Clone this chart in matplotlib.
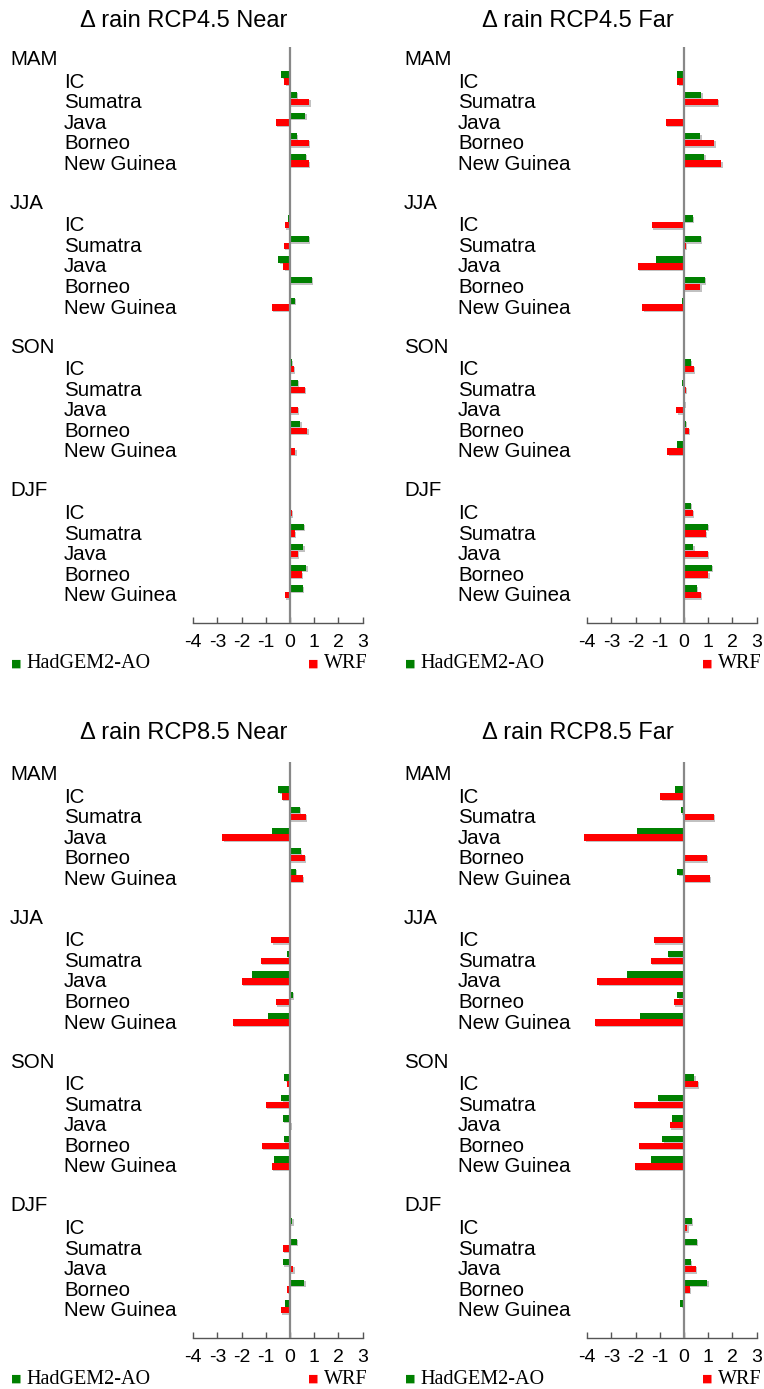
import matplotlib
matplotlib.use("Agg")
import matplotlib.pyplot as plt
import matplotlib.transforms as mtransforms
import matplotlib.patheffects as pe
import numpy as np

plt.rcParams['axes.unicode_minus'] = False

seasons = ['MAM', 'JJA', 'SON', 'DJF']
regions = ['IC', 'Sumatra', 'Java', 'Borneo', 'New Guinea']
xticks = [-4, -3, -2, -1, 0, 1, 2, 3]
titles = ['\u0394 rain RCP4.5 Near', '\u0394 rain RCP4.5 Far',
          '\u0394 rain RCP8.5 Near', '\u0394 rain RCP8.5 Far']
legend_labels = ['HadGEM2-AO', 'WRF']

# rows: seasons, columns: regions
rcp45_near_had = [[-0.36, 0.29, 0.63, 0.29, 0.65],
                  [-0.07, 0.78, -0.48, 0.89, 0.21],
                  [0.07, 0.32, 0.0, 0.43, 0.0],
                  [0.0, 0.58, 0.55, 0.67, 0.54]]
rcp45_near_wrf = [[-0.23, 0.80, -0.58, 0.77, 0.77],
                  [-0.21, -0.26, -0.27, 0.0, -0.74],
                  [0.15, 0.62, 0.33, 0.71, 0.22],
                  [0.08, 0.21, 0.33, 0.48, -0.22]]

rcp45_far_had = [[-0.29, 0.71, -0.04, 0.67, 0.84],
                 [0.37, 0.70, -1.17, 0.87, -0.08],
                 [0.29, -0.07, 0.03, 0.07, -0.27],
                 [0.29, 0.98, 0.38, 1.14, 0.54]]
rcp45_far_wrf = [[-0.27, 1.39, -0.74, 1.26, 1.54],
                 [-1.32, 0.07, -1.92, 0.67, -1.73],
                 [0.40, 0.08, -0.32, 0.21, -0.69],
                 [0.37, 0.89, 0.99, 1.00, 0.70]]

rcp85_near_had = [[-0.48, 0.40, -0.74, 0.44, 0.25],
                  [-0.04, -0.14, -1.55, 0.11, -0.91],
                  [-0.23, -0.36, -0.30, -0.25, -0.66],
                  [0.10, 0.29, -0.29, 0.59, -0.19]]
rcp85_near_wrf = [[-0.34, 0.66, -2.79, 0.62, 0.52],
                  [-0.78, -1.20, -1.99, -0.58, -2.36],
                  [-0.11, -0.99, 0.03, -1.17, -0.76],
                  [-0.04, -0.29, 0.14, -0.12, -0.37]]

rcp85_far_had = [[-0.37, -0.12, -1.94, 0.0, -0.27],
                 [-0.04, -0.67, -2.34, -0.27, -1.83],
                 [0.43, -1.09, -0.49, -0.89, -1.36],
                 [0.33, 0.54, 0.29, 0.96, -0.16]]
rcp85_far_wrf = [[-0.98, 1.22, -4.12, 0.93, 1.06],
                 [-1.26, -1.37, -3.59, -0.43, -3.68],
                 [0.58, -2.08, -0.59, -1.86, -2.03],
                 [0.14, 0.0, 0.49, 0.25, -0.01]]

panels = [(rcp45_near_had, rcp45_near_wrf), (rcp45_far_had, rcp45_far_wrf),
          (rcp85_near_had, rcp85_near_wrf), (rcp85_far_had, rcp85_far_wrf)]

W, H = 764, 1389
fig = plt.figure(figsize=(W / 100, H / 100), dpi=100)

SANS = ['Liberation Sans', 'DejaVu Sans']
SERIF = ['Liberation Serif', 'DejaVu Serif']
GREEN = '#008000'
RED = '#ff0000'

zero_px = [290, 684]
unit = 24.2
xlo, xhi = -4.5, 3.5
top_px = [47, 762]
bot_px = [623, 1338]
row0 = 57.5
rowh = 20.55
LABEL_FS = 14.8

shadow = [pe.SimplePatchShadow(offset=(1, -1), shadow_rgbFace='#999999', alpha=0.6), pe.Normal()]

for i, (had, wrf) in enumerate(panels):
    col, rowp = i % 2, i // 2
    z = zero_px[col]
    left_px = z + xlo * unit
    right_px = z + xhi * unit
    tp, bp = top_px[rowp], bot_px[rowp]
    off = tp - 47
    ax = fig.add_axes([left_px / W, 1 - bp / H, (right_px - left_px) / W, (bp - tp) / H])
    r_top = (tp - (row0 + off)) / rowh
    r_bot = (bp - (row0 + off)) / rowh
    ax.set_ylim(r_bot, r_top)
    ax.set_xlim(xlo, xhi)

    had_a = np.array(had)
    wrf_a = np.array(wrf)
    rows = np.array([[7 * s + 1 + j for j in range(len(regions))] for s in range(len(seasons))])
    ax.barh(rows.ravel() - 0.165, had_a.ravel(), height=0.31, color=GREEN,
            path_effects=shadow, zorder=2)
    ax.barh(rows.ravel() + 0.165, wrf_a.ravel(), height=0.31, color=RED,
            path_effects=shadow, zorder=2)
    ax.axvline(0, color='#888888', lw=1.6, zorder=3)

    for s in ['top', 'right', 'left']:
        ax.spines[s].set_visible(False)
    ax.spines['bottom'].set_bounds(-4, 3)
    ax.spines['bottom'].set_color('#555555')
    ax.spines['bottom'].set_linewidth(1.0)
    ax.set_yticks([])
    ax.set_xticks(xticks)
    ax.set_xticklabels([str(t) for t in xticks], fontfamily=SANS, fontsize=14)
    ax.tick_params(axis='x', direction='in', length=4, width=1, color='#555555', pad=8)
    ax.patch.set_alpha(0)

    trans = mtransforms.blended_transform_factory(fig.transFigure, ax.transData)
    base_x = (10 + 394 * col) / W
    reg_x = (64 + 394 * col) / W
    for s, sea in enumerate(seasons):
        ax.text(base_x, 7 * s + 0.36, sea, transform=trans, ha='left', va='baseline',
                fontfamily=SANS, fontsize=LABEL_FS, clip_on=False)
        for j, reg in enumerate(regions):
            ax.text(reg_x, 7 * s + 1 + j + 0.46, reg, transform=trans, ha='left',
                    va='baseline', fontfamily=SANS, fontsize=LABEL_FS, clip_on=False)

    # title
    fig.text((184 + 394 * col) / W, 1 - (27 + 712 * rowp) / H, titles[i],
             ha='center', va='baseline', fontfamily=SANS, fontsize=17)

    # legend
    ly = 1 - (664 + 715 * rowp) / H
    fig.text((11 + 394 * col) / W, ly, '\u25a0', color=GREEN, ha='left', va='center',
             fontfamily=['DejaVu Sans'], fontsize=8)
    fig.text((26 + 394 * col) / W, ly, legend_labels[0], ha='left', va='center',
             fontfamily=SERIF, fontsize=14.5)
    fig.text((308 + 394 * col) / W, ly, '\u25a0', color=RED, ha='left', va='center',
             fontfamily=['DejaVu Sans'], fontsize=8)
    fig.text((324 + 394 * col) / W, ly, legend_labels[1], ha='left', va='center',
             fontfamily=SERIF, fontsize=14.5)

fig.savefig('out.png', dpi=100)
